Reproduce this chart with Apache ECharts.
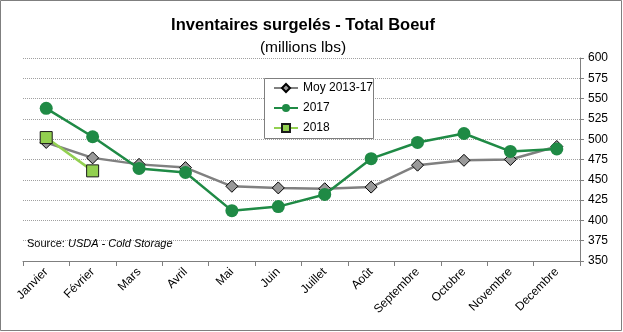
<!DOCTYPE html>
<html><head><meta charset="utf-8">
<script src="https://cdn.jsdelivr.net/npm/echarts@6/dist/echarts.min.js"></script>
<style>html,body{margin:0;padding:0;background:#fff}#c{width:623px;height:332px}</style>
</head><body><div id="c"></div>
<script>
const categories = ['Janvier','Février','Mars','Avril','Mai','Juin','Juillet','Août','Septembre','Octobre','Novembre','Decembre'];
const moy = [496, 477, 469, 465, 442, 440, 439, 441, 468, 474, 475, 491];
const y2017 = [538, 503, 464, 459, 412, 417, 432, 476, 496, 507, 485, 488];
const y2018 = [502, 461];
const chart = echarts.init(document.getElementById('c'));
const font = 'Liberation Sans, Arial, sans-serif';
chart.setOption({
  animation: false,
  textStyle: {fontFamily: font},
  title: [
    {text: 'Inventaires surgelés - Total Boeuf', left: 298, top: 12, textAlign: 'center',
     textStyle: {fontSize: 16.5, fontWeight: 'bold', color: '#000', fontFamily: font}},
    {text: '(millions lbs)', left: 298, top: 35, textAlign: 'center',
     textStyle: {fontSize: 15.5, fontWeight: 'normal', color: '#000', fontFamily: font}}
  ],
  graphic: [
    {type: 'rect', shape: {x: 0.5, y: 0.5, width: 621, height: 330}, style: {fill: 'none', stroke: '#7f7f7f', lineWidth: 1}},
    {type: 'rect', shape: {x: 264.5, y: 78.5, width: 109, height: 60}, style: {fill: '#fff', stroke: '#7f7f7f', lineWidth: 1}, z: 5},
    {type: 'text', left: 27, top: 238, z: 5, style: {rich: {n: {fontSize: 11, fontFamily: font, fill: '#000'}, i: {fontSize: 11, fontStyle: 'italic', fontFamily: font, fill: '#000'}}, text: '{n|Source: }{i|USDA - Cold Storage}'}}
  ],
  legend: {
    left: 268, top: 77, orient: 'vertical', itemGap: 8, itemWidth: 24, itemHeight: 10,
    textStyle: {fontSize: 12, color: '#000', fontFamily: font}, z: 10,
    data: ['Moy 2013-17', '2017', '2018']
  },
  grid: {left: 23, right: 43, top: 58, bottom: 71},
  xAxis: {
    type: 'category', data: categories, boundaryGap: true,
    axisLine: {lineStyle: {color: '#7f7f7f'}},
    axisTick: {show: true, alignWithLabel: false, length: 5, lineStyle: {color: '#7f7f7f'}},
    axisLabel: {rotate: 45, fontSize: 12, color: '#000', margin: 9, interval: 0}
  },
  yAxis: {
    type: 'value', position: 'right', min: 350, max: 600, interval: 25,
    axisLine: {show: true, lineStyle: {color: '#7f7f7f'}},
    axisTick: {show: true, inside: false, length: 4, lineStyle: {color: '#7f7f7f'}},
    axisLabel: {fontSize: 12, color: '#000', margin: 8},
    splitLine: {lineStyle: {color: '#a0a0a0', type: [1, 1], width: 1}}
  },
  series: [
    {name: 'Moy 2013-17', type: 'line', data: moy, symbol: 'diamond', symbolSize: 12,
     lineStyle: {color: '#808080', width: 2.5}, itemStyle: {color: '#999999', borderColor: '#000', borderWidth: 1}, z: 2},
    {name: '2017', type: 'line', data: y2017, symbol: 'circle', symbolSize: 13,
     lineStyle: {color: '#1f8a45', width: 2.5}, itemStyle: {color: '#1f8a45', borderColor: '#1f8a45', borderWidth: 0}, z: 3},
    {name: '2018', type: 'line', data: y2018, symbol: 'rect', symbolSize: 12,
     lineStyle: {color: '#92d050', width: 2.5}, itemStyle: {color: '#92d050', borderColor: '#1a1a1a', borderWidth: 1}, z: 4}
  ]
});
</script></body></html>
